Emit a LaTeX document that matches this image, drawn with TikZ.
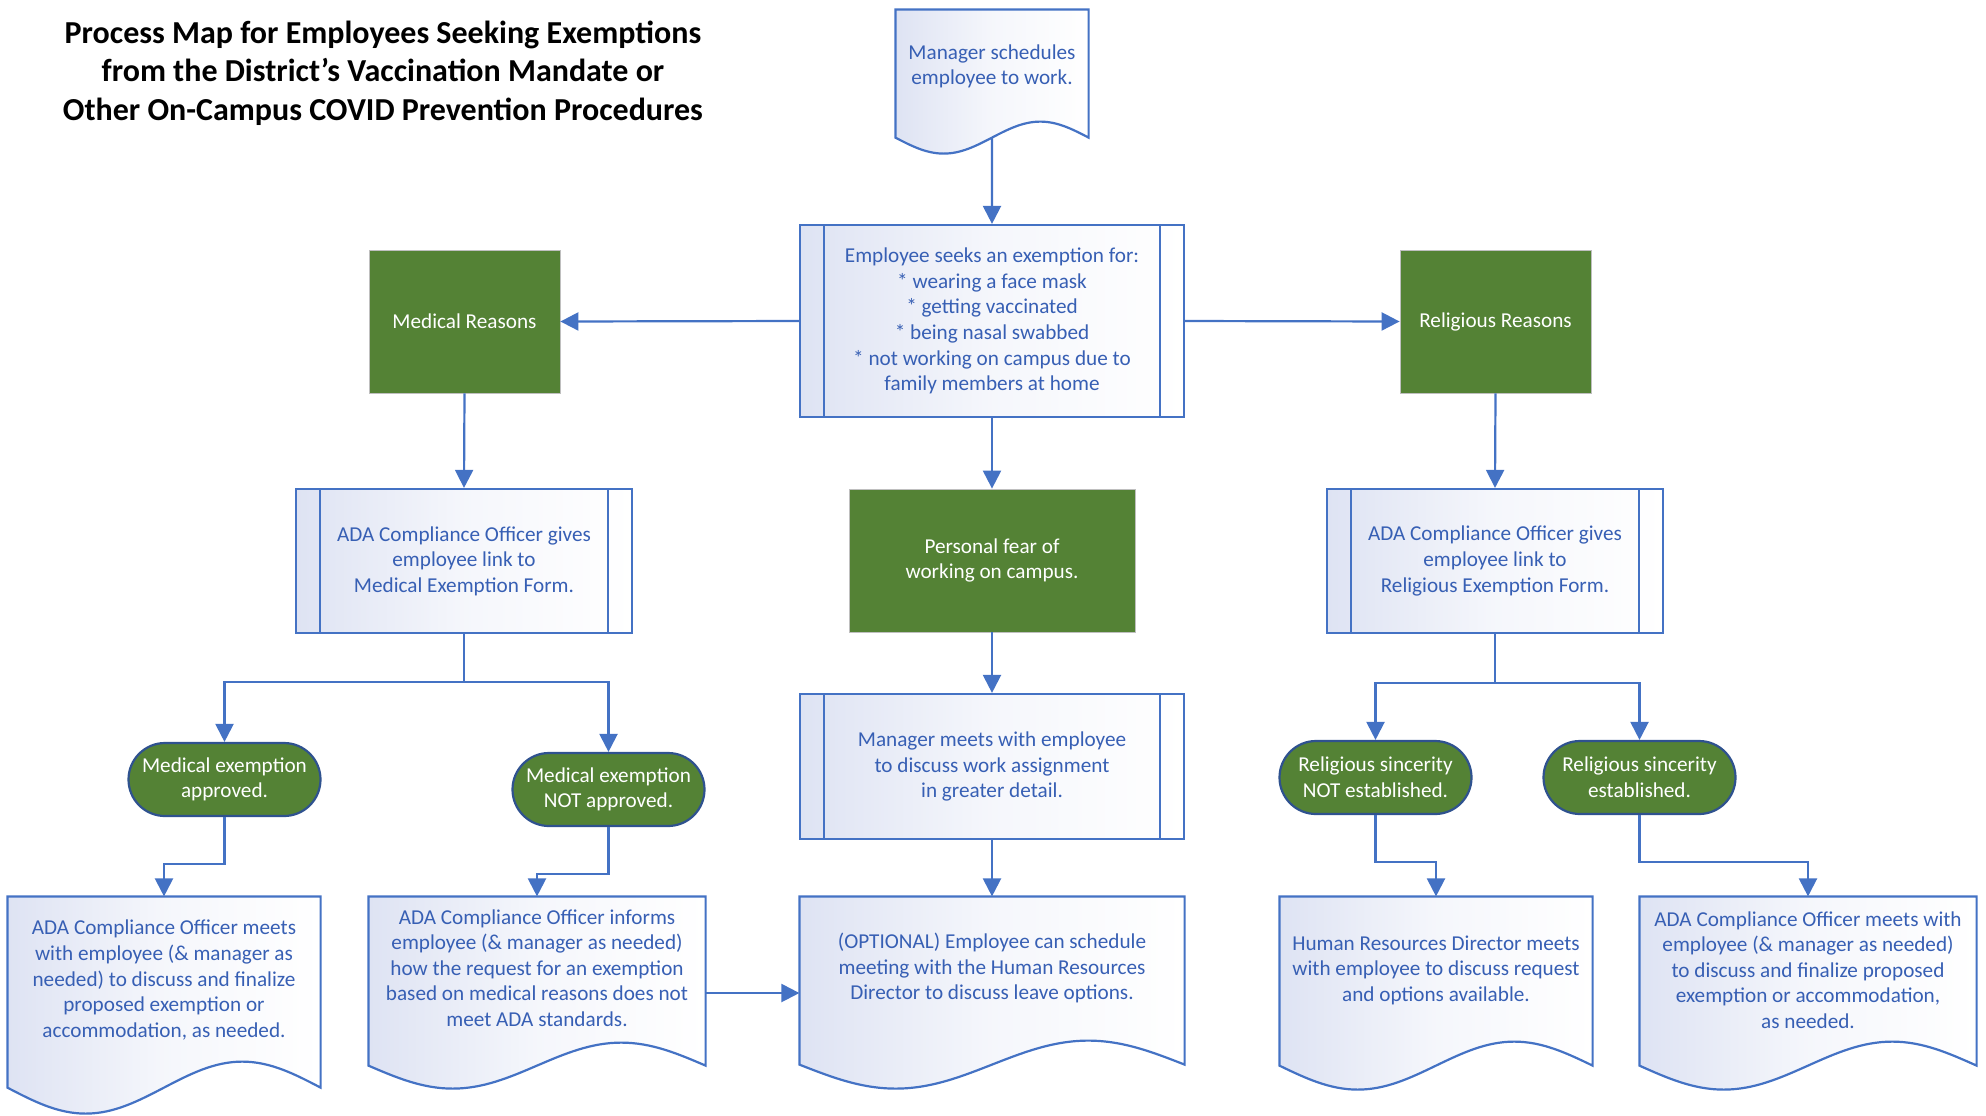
\documentclass[tikz,border=0pt]{standalone}
\usepackage{fontspec}
\setmainfont{Carlito}
\usetikzlibrary{arrows.meta,calc,shapes.misc,backgrounds}
\definecolor{lineblue}{RGB}{68,114,196}
\definecolor{textblue}{RGB}{55,95,180}
\definecolor{boxgreen}{RGB}{84,130,53}
\definecolor{termblue}{RGB}{47,82,143}
\definecolor{docfill}{RGB}{222,227,243}
\newcommand\docframe[3]{%
\coordinate (#1-r) at ($(#1.south east)+(0,#2)$);
\coordinate (#1-l) at ($(#1.south west)+(0,#2)$);
\coordinate (#1-m) at ($(#1-r)!0.5!(#1-l)$);
\begin{scope}[on background layer]
\draw[docline] (#1.north west)--(#1.north east)--(#1-r) sin ($(#1-r)!0.25!(#1-l)+(0,-#3)$) cos (#1-m)
 sin ($(#1-r)!0.75!(#1-l)+(0,#3)$) cos (#1-l)--cycle;
\end{scope}}
\begin{document}
\begin{tikzpicture}[x=0.5pt,y=-0.5pt,semithick,
every node/.style={font=\fontsize{10.6}{12.8}\selectfont,align=center,inner sep=0pt},
docline/.style={draw=lineblue,line width=1.1pt,left color=docfill,right color=white,middle color=docfill!30!white},
docnode/.style={text=textblue},
predef/.style={docline,text=textblue,path picture={\draw[lineblue,line width=1.1pt]
 ([xshift=12pt]path picture bounding box.north west)--([xshift=12pt]path picture bounding box.south west)
 ([xshift=-12pt]path picture bounding box.north east)--([xshift=-12pt]path picture bounding box.south east);}},
greenbox/.style={fill=boxgreen,draw=black!25,thin,text=white,minimum height=71.5pt},
term/.style={rounded rectangle,fill=boxgreen,draw=termblue,line width=1.1pt,text=white,minimum width=96pt,minimum height=36.5pt},
conn/.style={draw=lineblue,line width=1.1pt,-{Triangle[length=9pt,width=9pt]}}]
\useasboundingbox (0,0) rectangle (1986,1115);
\node[font=\fontsize{16}{19.2}\selectfont\bfseries] (title) at (383,73) {Process Map for Employees Seeking Exemptions\\from the District’s Vaccination Mandate or\\Other On-Campus COVID Prevention Procedures};
\node[docnode,minimum width=96pt,minimum height=56.5pt] (D0) at (992,66.5) {Manager schedules\\employee to work.};
\docframe{D0}{14}{16}
\node[predef,minimum width=192pt,minimum height=96pt] (P0) at (992,321) {Employee seeks an exemption for:\\* wearing a face mask\\* getting vaccinated\\* being nasal swabbed\\* not working on campus due to\\family members at home};
\node[greenbox,minimum width=95.5pt] (G1) at (464.5,321.5) {Medical Reasons};
\node[greenbox,minimum width=95.5pt] (G2) at (1495.5,321.5) {Religious Reasons};
\node[predef,minimum width=168pt,minimum height=72pt] (P1) at (464,561) {ADA Compliance Officer gives\\employee link to\\Medical Exemption Form.};
\node[greenbox,minimum width=143pt] (G3) at (992,560.5) {Personal fear of\\working on campus.};
\node[predef,minimum width=168pt,minimum height=72pt] (P2) at (1495,561) {ADA Compliance Officer gives\\employee link to\\Religious Exemption Form.};
\node[term] (T1) at (224.5,779.5) {Medical exemption\\approved.};
\node[term] (T2) at (608.5,789.5) {Medical exemption\\NOT approved.};
\node[predef,minimum width=192pt,minimum height=72.5pt] (P3) at (992,766.5) {Manager meets with employee\\to discuss work assignment\\in greater detail.};
\node[term] (T3) at (1375.5,777.5) {Religious sincerity\\NOT established.};
\node[term] (T4) at (1639.5,777.5) {Religious sincerity\\established.};
\node[docnode,minimum width=156pt,minimum height=83pt] (D1) at (164,980) {ADA Compliance Officer meets\\with employee (\& manager as\\needed) to discuss and finalize\\proposed exemption or\\accommodation, as needed.};
\docframe{D1}{24}{26}
\node[docnode,minimum width=168pt,minimum height=71pt] (D2) at (537,968) {ADA Compliance Officer informs\\employee (\& manager as needed)\\how the request for an exemption\\based on medical reasons does not\\meet ADA standards.};
\docframe{D2}{26}{23}
\node[docnode,minimum width=192pt,minimum height=71pt] (D3) at (992,968) {(OPTIONAL) Employee can schedule\\meeting with the Human Resources\\Director to discuss leave options.};
\docframe{D3}{25}{24}
\node[docnode,minimum width=156pt,minimum height=73pt] (D4) at (1436,970) {Human Resources Director meets\\with employee to discuss request\\and options available.};
\docframe{D4}{22}{24}
\node[docnode,minimum width=168pt,minimum height=73pt] (D5) at (1808,970) {ADA Compliance Officer meets with\\employee (\& manager as needed)\\to discuss and finalize proposed\\exemption or accommodation,\\as needed.};
\docframe{D5}{22}{24}
\draw[conn] (D0-m)--(P0.north);
\draw[conn] (P0.west)--(G1.east);
\draw[conn] (P0.east)--(G2.west);
\draw[conn] (P0.south)--(G3.north);
\draw[conn] (G1.south)--(P1.north);
\draw[conn] (G2.south)--(P2.north);
\draw[conn] (G3.south)--(P3.north);
\draw[conn] (P3.south)--(D3.north);
\draw[conn] (P1.south)--++(0,48)-|(T1.north);
\draw[conn] (P1.south)--++(0,48)-|(T2.north);
\draw[conn] (P2.south)--++(0,49)-|(T3.north);
\draw[conn] (P2.south)--++(0,49)-|(T4.north);
\draw[conn] (T1.south)--++(0,47)-|(D1.north);
\draw[conn] (T2.south)--++(0,47)-|(D2.north);
\draw[conn] (T3.south)--++(0,47)-|(D4.north);
\draw[conn] (T4.south)--++(0,47)-|(D5.north);
\draw[conn] ([yshift=-12.5pt]D2.east)--([yshift=-12.5pt]D3.west);
\end{tikzpicture}
\end{document}
